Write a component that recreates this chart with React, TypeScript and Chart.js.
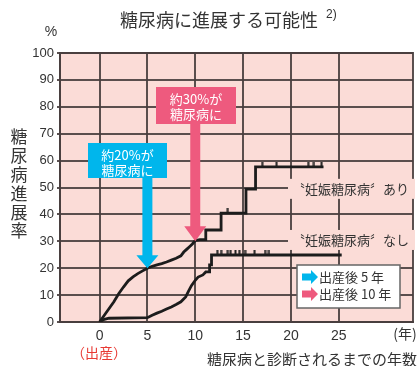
import React, { useEffect, useRef } from "react";
import { Chart, registerables } from "chart.js";

Chart.register(...registerables);

// ---- data ----
const xTickValues = [0, 5, 10, 15, 20, 25];
const yTickStep = 10;

// 妊娠糖尿病 あり (step corners listed explicitly)
const gdmYears = [0, 0.5, 1.0, 1.5, 2.0, 2.5, 3.0, 3.5, 4.0, 4.5, 5.0, 5.5, 6.0, 6.5, 7.0, 7.5, 8.0, 8.5, 8.8, 9.1, 9.4, 9.7, 10.0, 10.5, 11.1, 11.1, 12.7, 12.7, 15.3, 15.3, 16.3, 16.3, 23.4];
const gdmRates = [0, 2.5, 5, 7.5, 10.5, 13, 15.3, 16.8, 18, 19, 20, 20.7, 21.2, 21.7, 22.3, 23, 23.7, 24.6, 26, 27, 28, 29, 30.3, 30.6, 30.6, 34.2, 34.2, 40.5, 40.5, 49.4, 49.4, 57.7, 57.7];
const gdmCensorYears = [13.4, 17.0, 18.5, 21.8, 22.4, 23.2];
const gdmCensorRates = [40.5, 57.7, 57.7, 57.7, 57.7, 57.7];

// 妊娠糖尿病 なし
const nonYears = [0, 0.5, 1.0, 5.0, 5.5, 6.0, 6.5, 7.0, 7.5, 8.0, 8.5, 9.0, 9.3, 9.6, 10.0, 10.3, 10.8, 11.1, 11.5, 11.5, 11.7, 11.7, 25.3];
const nonRates = [0, 1.0, 1.4, 1.6, 2.5, 3.3, 4.0, 4.8, 5.6, 6.5, 7.5, 9.3, 11.5, 13.5, 15.5, 16.7, 17.5, 18.6, 18.6, 21.2, 21.2, 24.9, 24.9];
const nonCensorYears = [12.3, 12.7, 13.4, 13.7, 14.2, 14.6, 15.2, 16.2, 17.3, 17.7];
const nonCensorRates = [24.9, 24.9, 24.9, 24.9, 24.9, 24.9, 24.9, 24.9, 24.9, 24.9];

// annotation arrows: point to (year, rate)
const arrowYears = [5, 10];
const arrowRates = [20, 30];
const arrowLabels = [["約20%が", "糖尿病に"], ["約30%が", "糖尿病に"]];
const legendLabels = ["出産後 5 年", "出産後 10 年"];
const seriesLabels = ["〝妊娠糖尿病〞あり", "〝妊娠糖尿病〞なし"];

const BLUE = "#00b6ec";
const PINK = "#ee5a7e";
const BG = "#fbdcd7";
const GRID = "rgba(72,62,62,0.9)";
const TXT = "#333333";
const JP = '"Noto Sans CJK JP", sans-serif';
const NUM = '"Liberation Sans", Arial, sans-serif';

function makeCensorMark(): HTMLCanvasElement {
  const c = document.createElement("canvas");
  c.width = 3;
  c.height = 10;
  const g = c.getContext("2d")!;
  g.fillStyle = "#222";
  g.fillRect(0.5, 0, 2, 5);
  return c;
}

function downArrow(ctx: CanvasRenderingContext2D, cx: number, yTop: number, yTip: number, shaftW: number, headW: number, headH: number, color: string) {
  ctx.fillStyle = color;
  ctx.beginPath();
  ctx.moveTo(cx - shaftW / 2, yTop);
  ctx.lineTo(cx + shaftW / 2, yTop);
  ctx.lineTo(cx + shaftW / 2, yTip - headH);
  ctx.lineTo(cx + headW / 2, yTip - headH);
  ctx.lineTo(cx, yTip);
  ctx.lineTo(cx - headW / 2, yTip - headH);
  ctx.lineTo(cx - shaftW / 2, yTip - headH);
  ctx.closePath();
  ctx.fill();
}

function rightArrow(ctx: CanvasRenderingContext2D, x0: number, x1: number, cy: number, color: string) {
  ctx.fillStyle = color;
  ctx.beginPath();
  const headL = 7;
  ctx.moveTo(x0, cy - 3.5);
  ctx.lineTo(x1 - headL, cy - 3.5);
  ctx.lineTo(x1 - headL, cy - 7);
  ctx.lineTo(x1, cy);
  ctx.lineTo(x1 - headL, cy + 7);
  ctx.lineTo(x1 - headL, cy + 3.5);
  ctx.lineTo(x0, cy + 3.5);
  ctx.closePath();
  ctx.fill();
}

const decorPlugin = {
  id: "decor",
  beforeDraw(chart: any) {
    const { ctx, chartArea: a } = chart;
    ctx.save();
    ctx.fillStyle = BG;
    ctx.fillRect(a.left, a.top, a.right - a.left, a.bottom - a.top);
    ctx.restore();
  },
  beforeDatasetsDraw(chart: any) {
    const { ctx, chartArea: a } = chart;
    const ys = chart.scales.y;
    ctx.save();
    ctx.strokeStyle = GRID;
    ctx.lineWidth = 2;
    ctx.strokeRect(a.left, a.top, a.right - a.left, a.bottom - a.top);
    ctx.font = "13px " + JP;
    ctx.textBaseline = "middle";
    ctx.textAlign = "left";
    const labelRates = [49.5, 30.5];
    seriesLabels.forEach((s, i) => {
      const y = ys.getPixelForValue(labelRates[i]);
      const x = 292;
      const w = ctx.measureText(s).width;
      ctx.fillStyle = BG;
      ctx.fillRect(x - 4, y - 10, w + 10, 20);
      ctx.fillStyle = TXT;
      ctx.fillText(s, x, y);
    });
    ctx.restore();
  },
  afterDatasetsDraw(chart: any) {
    const { ctx } = chart;
    const xs = chart.scales.x;
    const ys = chart.scales.y;
    ctx.save();
    const boxes = [
      { l: 88, t: 143, r: 167, b: 178, color: BLUE, headH: 13 },
      { l: 156, t: 87, r: 236, b: 124, color: PINK, headH: 15 },
    ];
    boxes.forEach((bx, i) => {
      const tipX = xs.getPixelForValue(arrowYears[i]);
      const tipY = ys.getPixelForValue(arrowRates[i]);
      downArrow(ctx, tipX, bx.b - 1, tipY, 10, 22, bx.headH, bx.color);
      ctx.fillStyle = bx.color;
      ctx.fillRect(bx.l, bx.t, bx.r - bx.l, bx.b - bx.t);
      ctx.fillStyle = "#ffffff";
      ctx.font = "13px " + JP;
      ctx.textAlign = "center";
      ctx.textBaseline = "middle";
      const cx = (bx.l + bx.r) / 2;
      ctx.fillText(arrowLabels[i][0], cx, bx.t + 12);
      ctx.fillText(arrowLabels[i][1], cx, bx.t + 27);
    });
    ctx.fillStyle = "#ffffff";
    ctx.fillRect(297, 265, 103, 43);
    ctx.strokeStyle = "#666";
    ctx.lineWidth = 1.5;
    ctx.strokeRect(297, 265, 103, 43);
    const rowY = [277, 294];
    const cols = [BLUE, PINK];
    legendLabels.forEach((s, i) => {
      rightArrow(ctx, 302, 318, rowY[i], cols[i]);
      ctx.fillStyle = TXT;
      ctx.font = "13px " + JP;
      ctx.textAlign = "left";
      ctx.textBaseline = "middle";
      ctx.fillText(s, 319, rowY[i]);
    });
    ctx.restore();
  },
  afterDraw(chart: any) {
    const { ctx } = chart;
    ctx.save();
    ctx.fillStyle = TXT;
    ctx.textBaseline = "middle";
    ctx.font = "18px " + JP;
    ctx.textAlign = "center";
    ctx.fillText("糖尿病に進展する可能性", 219, 20);
    ctx.font = "12px " + NUM;
    ctx.textAlign = "left";
    ctx.fillText("2)", 326, 15);
    ctx.font = "14px " + NUM;
    ctx.textAlign = "center";
    ctx.fillText("%", 51, 32);
    ctx.font = "17px " + JP;
    const yt = "糖尿病進展率";
    for (let i = 0; i < yt.length; i++) {
      ctx.fillText(yt[i], 19, 137 + i * 18.8);
    }
    ctx.font = "14px " + JP;
    ctx.fillText("(年)", 405, 334);
    ctx.fillStyle = "#e83a34";
    ctx.font = "14px " + JP;
    ctx.fillText("（出産）", 99, 353);
    ctx.fillStyle = TXT;
    ctx.font = "15px " + JP;
    ctx.textAlign = "right";
    ctx.fillText("糖尿病と診断されるまでの年数", 417, 359);
    ctx.restore();
  },
};

export default function App() {
  const ref = useRef<HTMLCanvasElement | null>(null);
  useEffect(() => {
    if (!ref.current) return;
    const mark = makeCensorMark();
    const chart = new Chart(ref.current, {
      type: "line",
      data: {
        datasets: [
          {
            label: seriesLabels[0],
            data: gdmYears.map((x, i) => ({ x, y: gdmRates[i] })),
            borderColor: "#1c1c1c",
            borderWidth: 2.8,
            pointRadius: 0,
            tension: 0,
            fill: false,
          },
          {
            label: seriesLabels[1],
            data: nonYears.map((x, i) => ({ x, y: nonRates[i] })),
            borderColor: "#1c1c1c",
            borderWidth: 2.8,
            pointRadius: 0,
            tension: 0,
            fill: false,
          },
          {
            label: "censor1",
            data: gdmCensorYears.map((x, i) => ({ x, y: gdmCensorRates[i] })),
            showLine: false,
            pointStyle: mark as any,
            pointRadius: 5,
          },
          {
            label: "censor2",
            data: nonCensorYears.map((x, i) => ({ x, y: nonCensorRates[i] })),
            showLine: false,
            pointStyle: mark as any,
            pointRadius: 5,
          },
        ],
      },
      options: {
        responsive: false,
        animation: false,
        layout: { padding: { top: 53, right: 2, left: 0, bottom: 0 } },
        plugins: { legend: { display: false }, tooltip: { enabled: false }, title: { display: false } },
        scales: {
          x: {
            type: "linear",
            min: -4.13,
            max: 32.75,
            afterBuildTicks: (s: any) => {
              s.ticks = xTickValues.map((v) => ({ value: v }));
            },
            afterFit: (s: any) => {
              s.height = 44;
            },
            grid: { color: GRID, lineWidth: 2, drawTicks: false },
            border: { display: true, color: GRID, width: 2 },
            ticks: { color: TXT, font: { family: NUM, size: 14 }, padding: 6, autoSkip: false, maxRotation: 0 },
          },
          y: {
            min: 0,
            max: 100,
            afterFit: (s: any) => {
              s.width = 60;
            },
            grid: { color: GRID, lineWidth: 2, tickLength: 3 },
            border: { display: true, color: GRID, width: 2 },
            ticks: { stepSize: yTickStep, color: TXT, font: { family: NUM, size: 13 }, padding: 3 },
          },
        },
      },
      plugins: [decorPlugin],
    });
    return () => chart.destroy();
  }, []);
  return (
    <div style={{ position: "fixed", left: 0, top: 0, width: 419, height: 366, background: "#fff" }}>
      <canvas ref={ref} width={419} height={366} />
    </div>
  );
}
